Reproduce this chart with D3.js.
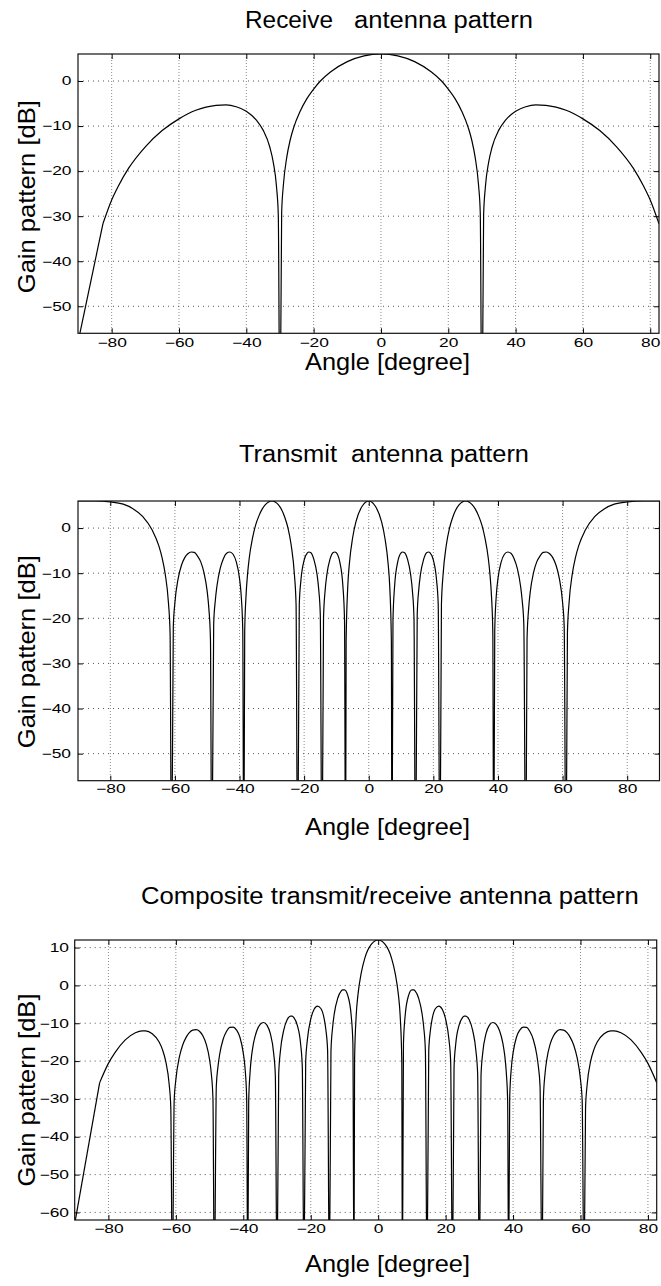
<!DOCTYPE html>
<html>
<head>
<meta charset="utf-8">
<script src="https://cdn.jsdelivr.net/npm/d3@7"></script>
<style>
  html, body { margin: 0; padding: 0; background: #fff; }
  svg { display: block; }
</style>
</head>
<body>
<div id="chart"></div>
<script>
// ---- data (angle in degrees, gain in dB; nulls dip below the axis floor and get clipped) ----
var xTicks = [-80, -60, -40, -20, 0, 20, 40, 60, 80];
var yTicksSingle = [-50, -40, -30, -20, -10, 0];
var yTicksComposite = [-60, -50, -40, -30, -20, -10, 0, 10];

var receivePattern = [
  [-90, -58], [-82.6, -31.7], [-80, -26.4], [-78, -23.3], [-75, -19.4], [-70, -14.6], [-65, -11.0],
  [-60, -8.4], [-55, -6.5], [-52, -5.8], [-49, -5.4], [-46, -5.3], [-43, -5.7], [-40, -6.7],
  [-37, -8.7], [-35, -10.9], [-33, -14.7], [-32, -18.0], [-31, -23.7], [-30.5, -29.7], [-30, -80],
  [-29.5, -29.3], [-29, -23.2], [-28, -17.0], [-27, -13.2], [-26, -10.5], [-24, -6.7], [-22, -3.9],
  [-20, -1.8], [-18, 0.0], [-15, 2.0], [-10, 4.3], [-5, 5.6], [0, 6.0], [5, 5.6], [10, 4.3],
  [15, 2.0], [18, 0.0], [20, -1.8], [22, -3.9], [24, -6.7], [26, -10.5], [27, -13.2], [28, -17.0],
  [29, -23.2], [29.5, -29.3], [30, -80], [30.5, -29.7], [31, -23.7], [32, -18.0], [33, -14.7],
  [35, -10.9], [37, -8.7], [40, -6.7], [43, -5.7], [46, -5.3], [49, -5.4], [52, -5.8], [55, -6.5],
  [60, -8.4], [65, -11.0], [70, -14.6], [75, -19.4], [78, -23.3], [80, -26.4], [82.6, -31.7]
];

var transmitPattern = [
  [-90, 6.0], [-85, 6.0], [-80, 5.8], [-76, 5.3], [-73, 4.3], [-70, 2.6], [-67, -0.5], [-65, -3.9],
  [-64, -6.5], [-63, -10.2], [-62, -16.6], [-61.5, -23.2], [-61.04, -80], [-60.5, -21.9], [-60, -16.5],
  [-59, -11.2], [-58, -8.3], [-57, -6.6], [-56, -5.7], [-55, -5.3], [-54, -5.4], [-53, -6.2],
  [-52, -7.5], [-51, -9.9], [-50, -14.1], [-49.5, -17.8], [-49, -24.6], [-48.59, -80], [-48, -21.3],
  [-47.5, -16.1], [-47, -12.9], [-46, -9.0], [-45, -6.8], [-44, -5.6], [-43, -5.3], [-42, -5.8],
  [-41, -7.5], [-40, -11.2], [-39.5, -14.8], [-39, -22.6], [-38.68, -80], [-38.4, -23.0], [-38, -15.2],
  [-37.5, -10.1], [-37, -6.7], [-36, -2.3], [-35, 0.7], [-34, 2.7], [-33, 4.2], [-32, 5.2], [-31, 5.8],
  [-30, 6.0], [-29, 5.8], [-28, 5.2], [-27, 4.1], [-26, 2.4], [-25, 0.0], [-24, -3.8], [-23, -10.4],
  [-22.5, -16.9], [-22.02, -80], [-21.5, -16.9], [-21, -11.6], [-20, -7.1], [-19, -5.5], [-18.5, -5.3],
  [-18, -5.4], [-17, -6.9], [-16, -10.3], [-15.5, -13.5], [-15, -19.2], [-14.48, -80], [-14, -19.9],
  [-13.5, -13.8], [-13, -10.5], [-12, -6.9], [-11, -5.4], [-10.5, -5.3], [-10, -5.5], [-9, -7.4],
  [-8, -12.9], [-7.5, -20.4], [-7.18, -80], [-7, -25.0], [-6.5, -13.0], [-6, -7.9], [-5, -2.2],
  [-4, 1.3], [-2, 4.9], [0, 6.0], [2, 4.9], [4, 1.3], [5, -2.2], [6, -7.9], [6.5, -13.0], [7, -25.0],
  [7.18, -80], [7.5, -20.4], [8, -12.9], [9, -7.4], [10, -5.5], [10.5, -5.3], [11, -5.4], [12, -6.9],
  [13, -10.5], [13.5, -13.8], [14, -19.9], [14.48, -80], [15, -19.2], [15.5, -13.5], [16, -10.3],
  [17, -6.9], [18, -5.4], [18.5, -5.3], [19, -5.5], [20, -7.1], [21, -11.6], [21.5, -16.9],
  [22.02, -80], [22.5, -16.9], [23, -10.4], [24, -3.8], [25, 0.0], [26, 2.4], [27, 4.1], [28, 5.2],
  [29, 5.8], [30, 6.0], [31, 5.8], [32, 5.2], [33, 4.2], [34, 2.7], [35, 0.7], [36, -2.3], [37, -6.7],
  [37.5, -10.1], [38, -15.2], [38.4, -23.0], [38.68, -80], [39, -22.6], [39.5, -14.8], [40, -11.2],
  [41, -7.5], [42, -5.8], [43, -5.3], [44, -5.6], [45, -6.8], [46, -9.0], [47, -12.9], [47.5, -16.1],
  [48, -21.3], [48.59, -80], [49, -24.6], [49.5, -17.8], [50, -14.1], [51, -9.9], [52, -7.5],
  [53, -6.2], [54, -5.4], [55, -5.3], [56, -5.7], [57, -6.6], [58, -8.3], [59, -11.2], [60, -16.5],
  [60.5, -21.9], [61.04, -80], [61.5, -23.2], [62, -16.6], [63, -10.2], [64, -6.5], [65, -3.9],
  [67, -0.5], [70, 2.6], [73, 4.3], [76, 5.3], [80, 5.8], [85, 6.0], [90, 6.0]
];

var compositePattern = [
  [-90, -63], [-82.6, -25.7], [-80, -20.6], [-78, -17.7], [-75, -14.4], [-72, -12.5], [-70, -12.0],
  [-69, -12.0], [-67, -12.8], [-65, -14.9], [-64, -16.9], [-63, -20.1], [-62, -26.0], [-61.5, -32.3],
  [-61.04, -80], [-60.5, -30.5], [-60, -24.9], [-59, -19.1], [-58, -15.8], [-57, -13.8], [-56, -12.5],
  [-55, -11.8], [-54, -11.7], [-53, -12.1], [-52, -13.3], [-51, -15.5], [-50, -19.6], [-49.5, -23.2],
  [-49, -29.9], [-48.59, -80], [-48, -26.6], [-47.5, -21.4], [-47, -18.2], [-46, -14.3], [-45, -12.2],
  [-44, -11.1], [-43, -11.0], [-42, -11.8], [-41, -13.7], [-40, -17.9], [-39.5, -21.7], [-39, -29.8],
  [-38.68, -80], [-38.4, -30.7], [-38, -23.1], [-37.5, -18.3], [-37, -15.4], [-36, -12.0], [-35, -10.3],
  [-34, -9.8], [-33, -10.5], [-32, -12.7], [-31, -17.9], [-30.5, -23.8], [-30, -80], [-29.5, -23.4],
  [-29, -17.4], [-28, -11.8], [-27, -9.1], [-26, -8.1], [-25.5, -8.1], [-25, -8.5], [-24, -10.5],
  [-23, -15.5], [-22.5, -21.6], [-22.02, -80], [-21.5, -20.2], [-21, -14.4], [-20, -8.9], [-19, -6.3],
  [-18.5, -5.7], [-18, -5.5], [-17, -6.1], [-16, -8.9], [-15.5, -11.8], [-15, -17.1], [-14.48, -80],
  [-14, -17.3], [-13.5, -11.0], [-13, -7.4], [-12, -3.4], [-11, -1.5], [-10.5, -1.2], [-10, -1.2],
  [-9, -2.7], [-8, -8.0], [-7.5, -15.3], [-7.18, -80], [-7, -19.8], [-6.5, -7.7], [-6, -2.5],
  [-5, 3.4], [-4, 7.1], [-2, 10.9], [0, 12.0], [2, 10.9], [4, 7.1], [5, 3.4], [6, -2.5], [6.5, -7.7],
  [7, -19.8], [7.18, -80], [7.5, -15.3], [8, -8.0], [9, -2.7], [10, -1.2], [10.5, -1.2], [11, -1.5],
  [12, -3.4], [13, -7.4], [13.5, -11.0], [14, -17.3], [14.48, -80], [15, -17.1], [15.5, -11.8],
  [16, -8.9], [17, -6.1], [18, -5.5], [18.5, -5.7], [19, -6.3], [20, -8.9], [21, -14.4], [21.5, -20.2],
  [22.02, -80], [22.5, -21.6], [23, -15.5], [24, -10.5], [25, -8.5], [25.5, -8.1], [26, -8.1],
  [27, -9.1], [28, -11.8], [29, -17.4], [29.5, -23.4], [30, -80], [30.5, -23.8], [31, -17.9],
  [32, -12.7], [33, -10.5], [34, -9.8], [35, -10.3], [36, -12.0], [37, -15.4], [37.5, -18.3],
  [38, -23.1], [38.4, -30.7], [38.68, -80], [39, -29.8], [39.5, -21.7], [40, -17.9], [41, -13.7],
  [42, -11.8], [43, -11.0], [44, -11.1], [45, -12.2], [46, -14.3], [47, -18.2], [47.5, -21.4],
  [48, -26.6], [48.59, -80], [49, -29.9], [49.5, -23.2], [50, -19.6], [51, -15.5], [52, -13.3],
  [53, -12.1], [54, -11.7], [55, -11.8], [56, -12.5], [57, -13.8], [58, -15.8], [59, -19.1],
  [60, -24.9], [60.5, -30.5], [61.04, -80], [61.5, -32.3], [62, -26.0], [63, -20.1], [64, -16.9],
  [65, -14.9], [67, -12.8], [69, -12.0], [70, -12.0], [72, -12.5], [75, -14.4], [78, -17.7],
  [80, -20.6], [82.6, -25.7]
];

var FONT = '"Liberation Sans", Arial, Helvetica, sans-serif';
var W = 661, H = 1286;
var TICK_STRETCH = 1.45;   // the tick numbers in the original are drawn wide

var panels = [
  { title: [['Receive', 245, 88], ['antenna pattern', 354, 179]], titleY: 28.3,
    data: receivePattern, coarseEdge: true, xDomain: [-90, 82.6], yDomain: [-56, 6], yTicks: yTicksSingle,
    left: 78, right: 659, top: 54, bottom: 333.3, xPad: 5.5, yGap: 6.5,
    xLabelY: 370, yLabelMid: 196.7 },
  { title: [['Transmit', 239, 98], ['antenna pattern', 351, 178]], titleY: 461.7,
    data: transmitPattern, coarseEdge: false, xDomain: [-90, 90], yDomain: [-56, 6], yTicks: yTicksSingle,
    left: 78, right: 659.5, top: 501, bottom: 780.7, xPad: 4.2, yGap: 7,
    xLabelY: 835, yLabelMid: 651.7 },
  { title: [['Composite transmit/receive antenna pattern', 141, 497.7]], titleY: 904,
    data: compositePattern, coarseEdge: true, xDomain: [-90, 82.6], yDomain: [-62, 12], yTicks: yTicksComposite,
    left: 74.7, right: 656.7, top: 940, bottom: 1220, xPad: 4.8, yGap: 5.7,
    xLabelY: 1272, yLabelMid: 1090 }
];

var svg = d3.select('#chart').append('svg').attr('width', W).attr('height', H);
svg.append('rect').attr('width', W).attr('height', H).attr('fill', '#fff');

panels.forEach(function(p, i) {
  var x = d3.scaleLinear().domain(p.xDomain).range([p.left, p.right]);
  var y = d3.scaleLinear().domain(p.yDomain).range([p.bottom, p.top]);
  var g = svg.append('g');

  // Grid (dotted, MATLAB style)
  g.append('g').selectAll('line').data(xTicks).join('line')
    .attr('x1', function(d) { return x(d); }).attr('x2', function(d) { return x(d); })
    .attr('y1', p.top).attr('y2', p.bottom)
    .attr('stroke', '#8a8a8a').attr('stroke-width', 1).attr('stroke-dasharray', '1,2');
  g.append('g').selectAll('line').data(p.yTicks).join('line')
    .attr('x1', p.left).attr('x2', p.right)
    .attr('y1', function(d) { return y(d); }).attr('y2', function(d) { return y(d); })
    .attr('stroke', '#555').attr('stroke-width', 1).attr('stroke-dasharray', '1,4');

  // Curve (the first sample step at -90 is coarse in the original, so that piece stays straight)
  svg.append('clipPath').attr('id', 'clip' + i).append('rect')
    .attr('x', p.left).attr('y', p.top).attr('width', p.right - p.left).attr('height', p.bottom - p.top);
  var smooth = d3.line()
    .x(function(d) { return x(d[0]); })
    .y(function(d) { return y(d[1]); })
    .curve(d3.curveMonotoneX);
  var straight = d3.line()
    .x(function(d) { return x(d[0]); })
    .y(function(d) { return y(d[1]); });
  var curveG = g.append('g').attr('clip-path', 'url(#clip' + i + ')');
  var body = p.coarseEdge ? p.data.slice(1) : p.data;
  curveG.append('path').datum(body).attr('d', smooth)
    .attr('fill', 'none').attr('stroke', '#000').attr('stroke-width', 1.2);
  if (p.coarseEdge) {
    curveG.append('path').datum(p.data.slice(0, 2)).attr('d', straight)
      .attr('fill', 'none').attr('stroke', '#000').attr('stroke-width', 1.2);
  }

  // Axes: ticks point inward on all four sides
  g.append('g').attr('transform', 'translate(0,' + p.bottom + ')')
    .call(d3.axisBottom(x).tickValues(xTicks).tickSize(-5).tickPadding(p.xPad))
    .call(function(a) { a.select('.domain').remove(); })
    .call(function(a) { a.selectAll('.tick line').attr('stroke', '#000'); })
    .call(function(a) {
      a.selectAll('.tick text').attr('fill', '#000').attr('font-size', '12px').attr('font-family', FONT)
        .attr('transform', 'scale(' + TICK_STRETCH + ',1)');
    });
  g.append('g').attr('transform', 'translate(' + p.left + ',0)')
    .call(d3.axisLeft(y).tickValues(p.yTicks).tickSize(-5))
    .call(function(a) { a.select('.domain').remove(); })
    .call(function(a) { a.selectAll('.tick line').attr('stroke', '#000'); })
    .call(function(a) {
      a.selectAll('.tick text').attr('fill', '#000').attr('font-size', '12px').attr('font-family', FONT)
        .attr('x', -p.yGap / TICK_STRETCH)
        .attr('transform', 'scale(' + TICK_STRETCH + ',1)');
    });
  g.append('g').attr('transform', 'translate(0,' + p.top + ')')
    .call(d3.axisTop(x).tickValues(xTicks).tickSize(-5).tickFormat(''))
    .call(function(a) { a.select('.domain').remove(); })
    .call(function(a) { a.selectAll('.tick line').attr('stroke', '#000'); });
  g.append('g').attr('transform', 'translate(' + p.right + ',0)')
    .call(d3.axisRight(y).tickValues(p.yTicks).tickSize(-5).tickFormat(''))
    .call(function(a) { a.select('.domain').remove(); })
    .call(function(a) { a.selectAll('.tick line').attr('stroke', '#000'); });

  // Frame
  g.append('rect')
    .attr('x', p.left).attr('y', p.top).attr('width', p.right - p.left).attr('height', p.bottom - p.top)
    .attr('fill', 'none').attr('stroke', '#111').attr('stroke-width', 1.2);

  // Title
  var t = svg.append('text').attr('y', p.titleY).attr('fill', '#000')
    .attr('font-size', '23px').attr('font-family', FONT);
  p.title.forEach(function(part) {
    t.append('tspan').attr('x', part[1]).attr('textLength', part[2])
      .attr('lengthAdjust', 'spacingAndGlyphs').text(part[0]);
  });

  // Axis labels
  svg.append('text').attr('x', 305).attr('y', p.xLabelY)
    .attr('fill', '#000').attr('font-size', '24px').attr('font-family', FONT)
    .attr('textLength', 165).attr('lengthAdjust', 'spacingAndGlyphs')
    .text('Angle [degree]');
  svg.append('text')
    .attr('transform', 'translate(35,' + p.yLabelMid + ') rotate(-90)')
    .attr('text-anchor', 'middle').attr('fill', '#000').attr('font-size', '24px').attr('font-family', FONT)
    .attr('textLength', 193).attr('lengthAdjust', 'spacingAndGlyphs')
    .text('Gain pattern [dB]');
});
</script>
</body>
</html>
